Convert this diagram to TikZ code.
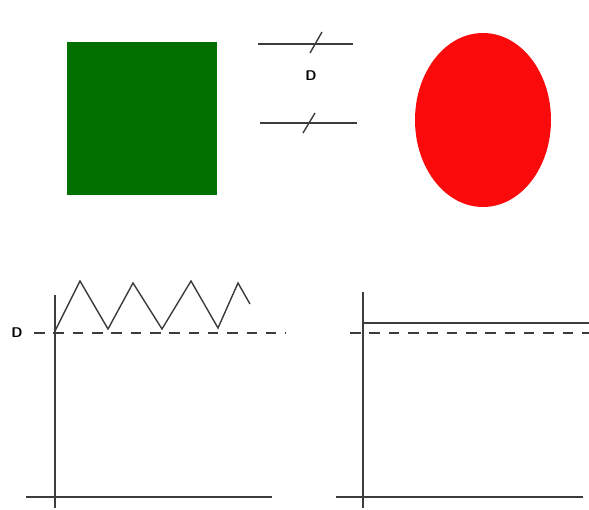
\documentclass[tikz,border=0pt]{standalone}
\usepackage{tikz}
\usetikzlibrary{calc}
\usetikzlibrary{positioning}
\definecolor{squaregreen}{RGB}{0,112,0}
\definecolor{ballred}{RGB}{250,10,10}
\definecolor{inkgray}{RGB}{60,60,60}

\begin{document}
\begin{tikzpicture}[x=0.02cm, y=-0.02cm,
  axis/.style={draw=inkgray, line width=0.8pt},
  level/.style={draw=inkgray, line width=0.8pt, dash pattern=on 6pt off 5pt},
  lbl/.style={font=\sffamily\bfseries\footnotesize, inner sep=1pt}]
\useasboundingbox (0,0) rectangle (589,510);

% square and circle
\fill[squaregreen] (67,42) rectangle (217,195);
\fill[ballred] (483,120) ellipse [x radius=68, y radius=87];

% gap symbol
\coordinate (t1) at (258,44);
\coordinate (t2) at (353,44);
\coordinate (b1) at (260,123);
\coordinate (b2) at (357,123);
\draw[axis] (t1) -- (t2);
\draw[axis] (b1) -- (b2);
\draw[axis] (310,53) -- (322,32);
\draw[axis] (303,133) -- (315,113);
\node[lbl] (D1) at (311,76) {D};

% left plot
\coordinate (lo) at (55,497);
\node[lbl] (D2) at (17,333) {D};
\draw[axis] (55,295) -- (55,508);
\draw[axis] (26,497) -- (272,497);
\draw[level] (34,333) -- (286,333);
\draw[axis] (55,331) -- (80,281) -- (108,329) -- (133,283) -- (162,329)
  -- (191,281) -- (218,328) -- (238,283) -- (250,304);

% right plot
\draw[axis] (363,292) -- (363,508);
\draw[axis] (336,497) -- (583,497);
\draw[level] (350,333) -- (589,333);
\draw[draw=inkgray, line width=1.3pt] (363,323) -- (589,323);

\end{tikzpicture}
\end{document}
